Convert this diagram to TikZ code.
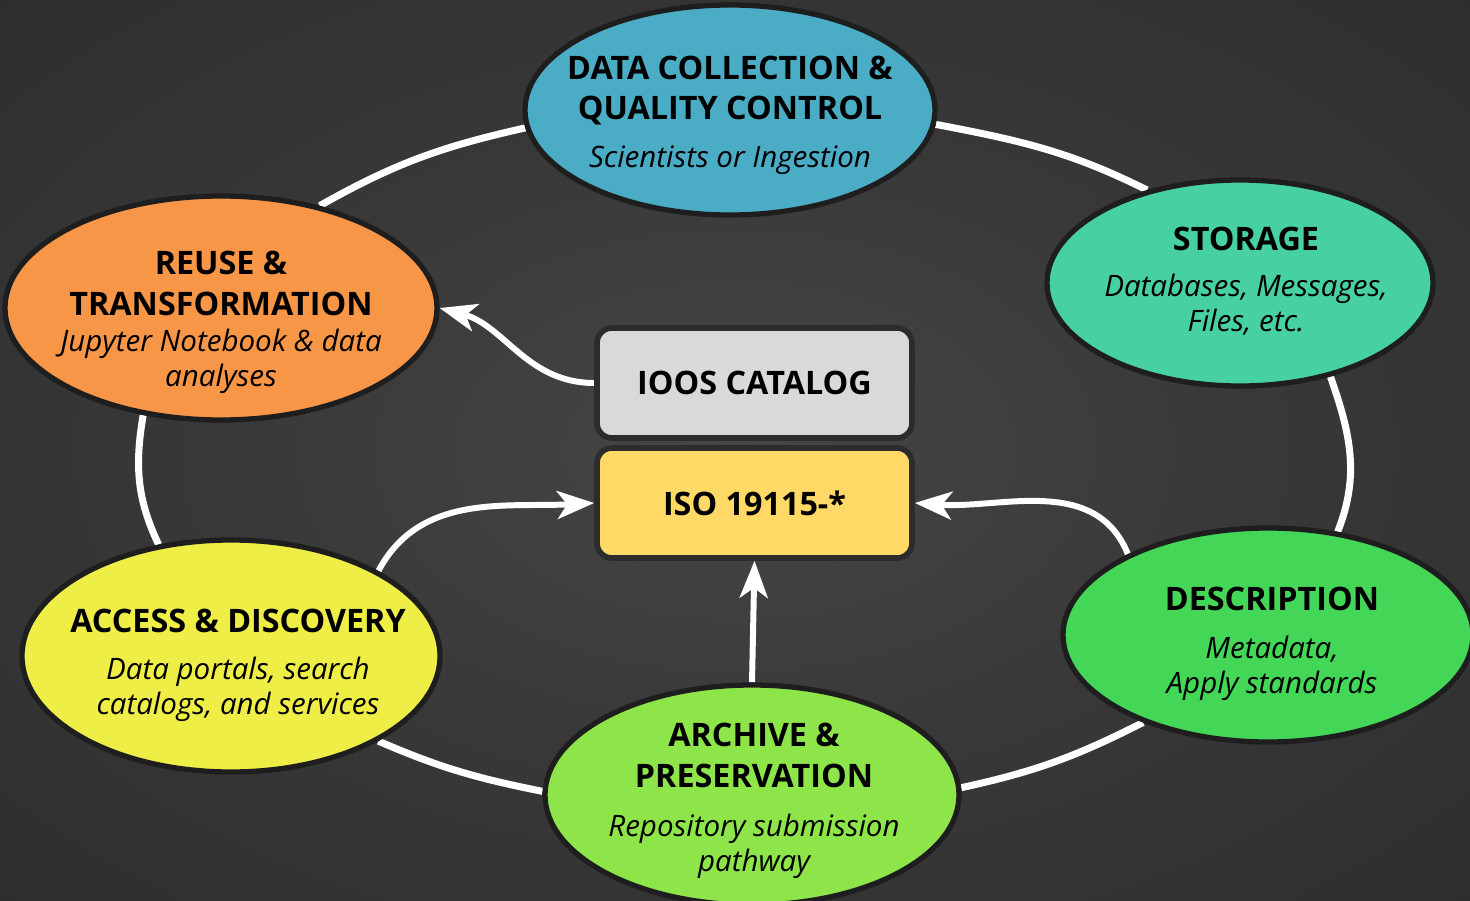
\documentclass[tikz,border=0pt]{standalone}
\usepackage{fontspec}
\setmainfont{Open Sans}
\usetikzlibrary{shapes.geometric,arrows.meta}

\definecolor{bgin}{HTML}{464646}
\definecolor{bgmid}{HTML}{383838}
\definecolor{bgedge}{HTML}{262626}
\definecolor{bgout}{HTML}{191919}
\definecolor{rim}{HTML}{1E1E1E}
\definecolor{boxrim}{HTML}{2C2C2C}
\definecolor{cCollect}{HTML}{4BACC6}
\definecolor{cStorage}{HTML}{47D1A3}
\definecolor{cDescr}{HTML}{43D657}
\definecolor{cArchive}{HTML}{8EE54A}
\definecolor{cAccess}{HTML}{EEEE47}
\definecolor{cReuse}{HTML}{F79646}
\definecolor{cCatalog}{HTML}{D9D9D9}
\definecolor{cIso}{HTML}{FFD966}

\newcommand{\headfont}{\bfseries\fontsize{9.2}{11.4}\selectfont}
\newcommand{\notefont}{\itshape\fontsize{8.4}{9.7}\selectfont}

\pgfdeclareradialshading{backdrop}{\pgfpoint{0bp}{0bp}}{%
  color(0bp)=(bgin); color(18bp)=(bgmid); color(50bp)=(bgedge); color(71bp)=(bgout); color(100bp)=(bgout)}

\pgfdeclarelayer{backdrop}
\pgfdeclarelayer{lines}
\pgfsetlayers{backdrop,lines,main}

\begin{document}
\begin{tikzpicture}[
	phase/.style={ellipse, draw=rim, line width=1.5pt, inner sep=0pt},
	tag/.style={rectangle, rounded corners=0.15cm, draw=boxrim, line width=1.6pt,
		minimum width=3.15cm, minimum height=1.10cm, inner sep=0pt, font=\headfont},
	head/.style={font=\headfont, align=center, inner sep=0pt, anchor=base},
	note/.style={font=\notefont, align=center, inner sep=0pt, anchor=base},
	ring/.style={draw=white, line width=2pt},
	flow/.style={draw=white, line width=1.7pt, -{Stealth[length=0.37cm,width=0.28cm,inset=0.1cm]}}
	]
	
	\useasboundingbox (0,0) rectangle (14.70,9.00);
	\begin{pgfonlayer}{backdrop}
		\shade[shading=backdrop] (0,0) rectangle (14.70,9.00);
	\end{pgfonlayer}
	
	% stages of the cycle
	\node[phase, fill=cCollect, minimum width=4.10cm, minimum height=2.10cm] (collect) at (7.30, 7.90) {};
	\node[phase, fill=cStorage, minimum width=3.86cm, minimum height=2.06cm] (storage) at (12.40, 6.17) {};
	\node[phase, fill=cDescr,   minimum width=4.10cm, minimum height=2.14cm] (descr)   at (12.68, 2.65) {};
	\node[phase, fill=cArchive, minimum width=4.14cm, minimum height=2.20cm] (archive) at (7.52, 1.05) {};
	\node[phase, fill=cAccess,  minimum width=4.18cm, minimum height=2.32cm] (access)  at (2.31, 2.44) {};
	\node[phase, fill=cReuse,   minimum width=4.32cm, minimum height=2.24cm] (reuse)   at (2.21, 5.92) {};
	
	% base sits on the last line of each text
	\node[head] (collect-t) at (7.30, 7.80) {DATA COLLECTION \&\\QUALITY CONTROL};
	\node[note] (collect-s) at (7.30, 7.32) {Scientists or Ingestion};
	\node[head] (storage-t) at (12.46, 6.50) {STORAGE};
	\node[note] (storage-s) at (12.46, 5.69) {Databases, Messages,\\Files, etc.};
	\node[head] (descr-t)   at (12.72, 2.90) {DESCRIPTION};
	\node[note] (descr-s)   at (12.72, 2.07) {Metadata,\\Apply standards};
	\node[head] (archive-t) at (7.54, 1.13) {ARCHIVE \&\\PRESERVATION};
	\node[note] (archive-s) at (7.54, 0.29) {Repository submission\\pathway};
	\node[head] (access-t)  at (2.38, 2.68) {ACCESS \& DISCOVERY};
	\node[note] (access-s)  at (2.38, 1.86) {Data portals, search\\catalogs, and services};
	\node[head] (reuse-t)   at (2.21, 5.85) {REUSE \&\\TRANSFORMATION};
	\node[note] (reuse-s)   at (2.21, 5.14) {Jupyter Notebook \& data\\analyses};
	
	% catalog and standard in the middle
	\node[tag, fill=cCatalog] (catalog) at (7.545, 5.17) {IOOS CATALOG};
	\node[tag, fill=cIso]     (iso)     at (7.545, 3.97) {ISO 19115-*};
	
	\begin{pgfonlayer}{lines}
		\path[ring] (reuse.46)   to[out=29.5,  in=192.6] (collect.185);
		\path[ring] (collect.-4) to[out=-10.8, in=153.4] (storage.135);
		\path[ring] (storage.-46) to[out=-70.7, in=68.4] (descr.56);
		\path[ring] (descr.215)  to[out=206.9, in=12.3]  (archive.2);
		\path[ring] (archive.179) to[out=168.7, in=-23.4] (access.-30);
		\path[ring] (access.123) to[out=115.5, in=-99.6] (reuse.234);
		
		\path[flow] (catalog.west) to[out=180, in=-15] (reuse.east);
		\path[flow] (access.30)    to[out=62,  in=183] (iso.west);
		\path[flow] (descr.150)    to[out=112, in=-4]  (iso.east);
		\path[flow] (archive.north) -- (iso.south);
	\end{pgfonlayer}
	
\end{tikzpicture}
\end{document}
